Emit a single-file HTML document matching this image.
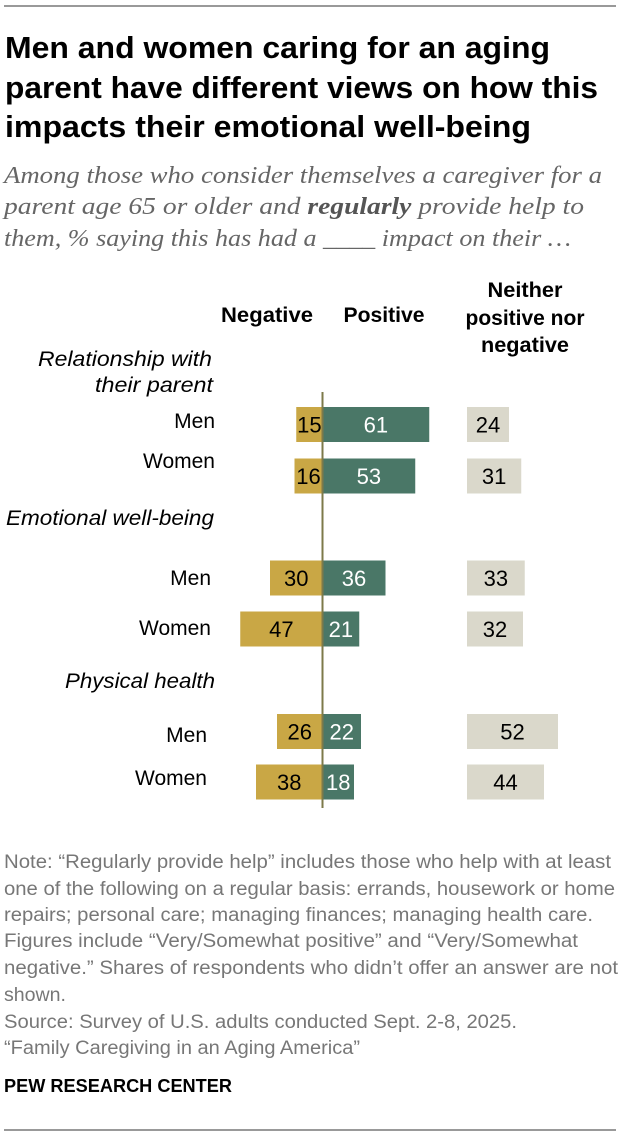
<!DOCTYPE html>
<html><head><meta charset="utf-8"><style>
html,body{margin:0;padding:0;background:#fff}
svg{display:block}
text{font-family:"Liberation Sans",sans-serif}
</style></head><body>
<svg width="620" height="1136" viewBox="0 0 620 1136">
<line x1="4" y1="6" x2="616" y2="6" stroke="#333" stroke-width="1"/>
<g font-weight="bold" font-size="31" fill="#000">
<text x="5" y="58" textLength="545" lengthAdjust="spacingAndGlyphs">Men and women caring for an aging</text>
<text x="5" y="98" textLength="593" lengthAdjust="spacingAndGlyphs">parent have different views on how this</text>
<text x="5" y="137" textLength="526" lengthAdjust="spacingAndGlyphs">impacts their emotional well-being</text>
</g>
<g font-size="24" fill="#666" font-style="italic">
<text x="4" y="183" style="font-family:'Liberation Serif',serif" textLength="598" lengthAdjust="spacingAndGlyphs">Among those who consider themselves a caregiver for a</text>
<text x="4" y="214" style="font-family:'Liberation Serif',serif" textLength="580" lengthAdjust="spacingAndGlyphs">parent age 65 or older and <tspan font-weight="bold" fill="#555">regularly</tspan> provide help to</text>
<text x="4" y="246" style="font-family:'Liberation Serif',serif" textLength="567" lengthAdjust="spacingAndGlyphs">them, % saying this has had a ____ impact on their …</text>
</g>
<g font-weight="bold" font-size="21" fill="#000">
<text x="267" y="322" text-anchor="middle" textLength="92" lengthAdjust="spacingAndGlyphs">Negative</text>
<text x="384" y="322" text-anchor="middle" textLength="81" lengthAdjust="spacingAndGlyphs">Positive</text>
<g text-anchor="middle">
<text x="525" y="297" textLength="75" lengthAdjust="spacingAndGlyphs">Neither</text>
<text x="525" y="325" textLength="119" lengthAdjust="spacingAndGlyphs">positive nor</text>
<text x="525" y="352" textLength="88" lengthAdjust="spacingAndGlyphs">negative</text>
</g>
</g>
<g id="labels" font-size="21" fill="#000"></g>
<g id="bars"></g>
<line x1="322.5" y1="392" x2="322.5" y2="808" stroke="#7d7a4a" stroke-width="2"/>
<g font-size="19" fill="#777">
<text x="4" y="868" textLength="607" lengthAdjust="spacingAndGlyphs">Note: “Regularly provide help” includes those who help with at least</text>
<text x="4" y="895" textLength="611" lengthAdjust="spacingAndGlyphs">one of the following on a regular basis: errands, housework or home</text>
<text x="4" y="921" textLength="589" lengthAdjust="spacingAndGlyphs">repairs; personal care; managing finances; managing health care.</text>
<text x="4" y="947" textLength="574" lengthAdjust="spacingAndGlyphs">Figures include “Very/Somewhat positive” and “Very/Somewhat</text>
<text x="4" y="974" textLength="614" lengthAdjust="spacingAndGlyphs">negative.” Shares of respondents who didn’t offer an answer are not</text>
<text x="4" y="1001" textLength="62" lengthAdjust="spacingAndGlyphs">shown.</text>
<text x="4" y="1028" textLength="513" lengthAdjust="spacingAndGlyphs">Source: Survey of U.S. adults conducted Sept. 2-8, 2025.</text>
<text x="4" y="1054" textLength="356" lengthAdjust="spacingAndGlyphs">“Family Caregiving in an Aging America”</text>
</g>
<text x="4" y="1092" font-size="18" font-weight="bold" fill="#000" textLength="228" lengthAdjust="spacingAndGlyphs">PEW RESEARCH CENTER</text>
<line x1="4" y1="1130" x2="616" y2="1130" stroke="#333" stroke-width="1"/>
</svg>
<script>
const groups = ["Men","Women","Men","Women","Men","Women"];
const negative = [15,16,30,47,26,38];
const positive = [61,53,36,21,22,18];
const neither = [24,31,33,32,52,44];
const categories = ["Relationship with their parent","Emotional well-being","Physical health"];

const NS="http://www.w3.org/2000/svg";
const zeroX=322.5, neutralX=467, scale=1.75, barH=35;
const rowY=[424.5,476,578,629,731.5,782];
const labelRight=[215,215,211,211,207,207];
const labelBase=[428,468,585,635,742,785];
function xNeg(v){return zeroX - v*scale;}
function xPos(v){return zeroX + v*scale;}
function mk(tag,attrs,parent){const e=document.createElementNS(NS,tag);for(const k in attrs)e.setAttribute(k,attrs[k]);parent.appendChild(e);return e;}
const bars=document.getElementById('bars');
const labels=document.getElementById('labels');
for(let i=0;i<groups.length;i++){
  const cy=rowY[i], top=cy-barH/2;
  const lab=mk('text',{x:labelRight[i],y:labelBase[i],'text-anchor':'end'},labels);
  lab.textContent=groups[i];
  
  
  const n=mk('rect',{x:xNeg(negative[i]),y:top,width:negative[i]*scale,height:barH,fill:'#C9A745'},bars);
  
  
  const nt=mk('text',{x:(xNeg(negative[i])+zeroX)/2,y:cy+8,'text-anchor':'middle','font-size':22,fill:'#000'},bars);
  nt.textContent=negative[i];
  
  
  const p=mk('rect',{x:zeroX,y:top,width:positive[i]*scale,height:barH,fill:'#4A7767'},bars);
  
  
  const pt=mk('text',{x:(xPos(positive[i])+zeroX)/2,y:cy+8,'text-anchor':'middle','font-size':22,fill:'#fff'},bars);
  pt.textContent=positive[i];
  
  
  const u=mk('rect',{x:neutralX,y:top,width:neither[i]*scale,height:barH,fill:'#DAD8CB'},bars);
  
  
  const ut=mk('text',{x:neutralX+neither[i]*scale/2,y:cy+8,'text-anchor':'middle','font-size':22,fill:'#000'},bars);
  ut.textContent=neither[i];
  
  
}
const catSpecs=[[["Relationship with",38,366,174],["their parent",95,392,118]],[["Emotional well-being",6,525,208]],[["Physical health",65,688,150]]];
catSpecs.forEach((lines,ci)=>{
  lines.forEach(l=>{
    const t=mk('text',{x:l[1],y:l[2],'font-style':'italic','font-size':21,textLength:l[3],lengthAdjust:'spacingAndGlyphs'},labels);
    t.textContent=l[0];
    
    
  });
});
</script>
</body></html>
